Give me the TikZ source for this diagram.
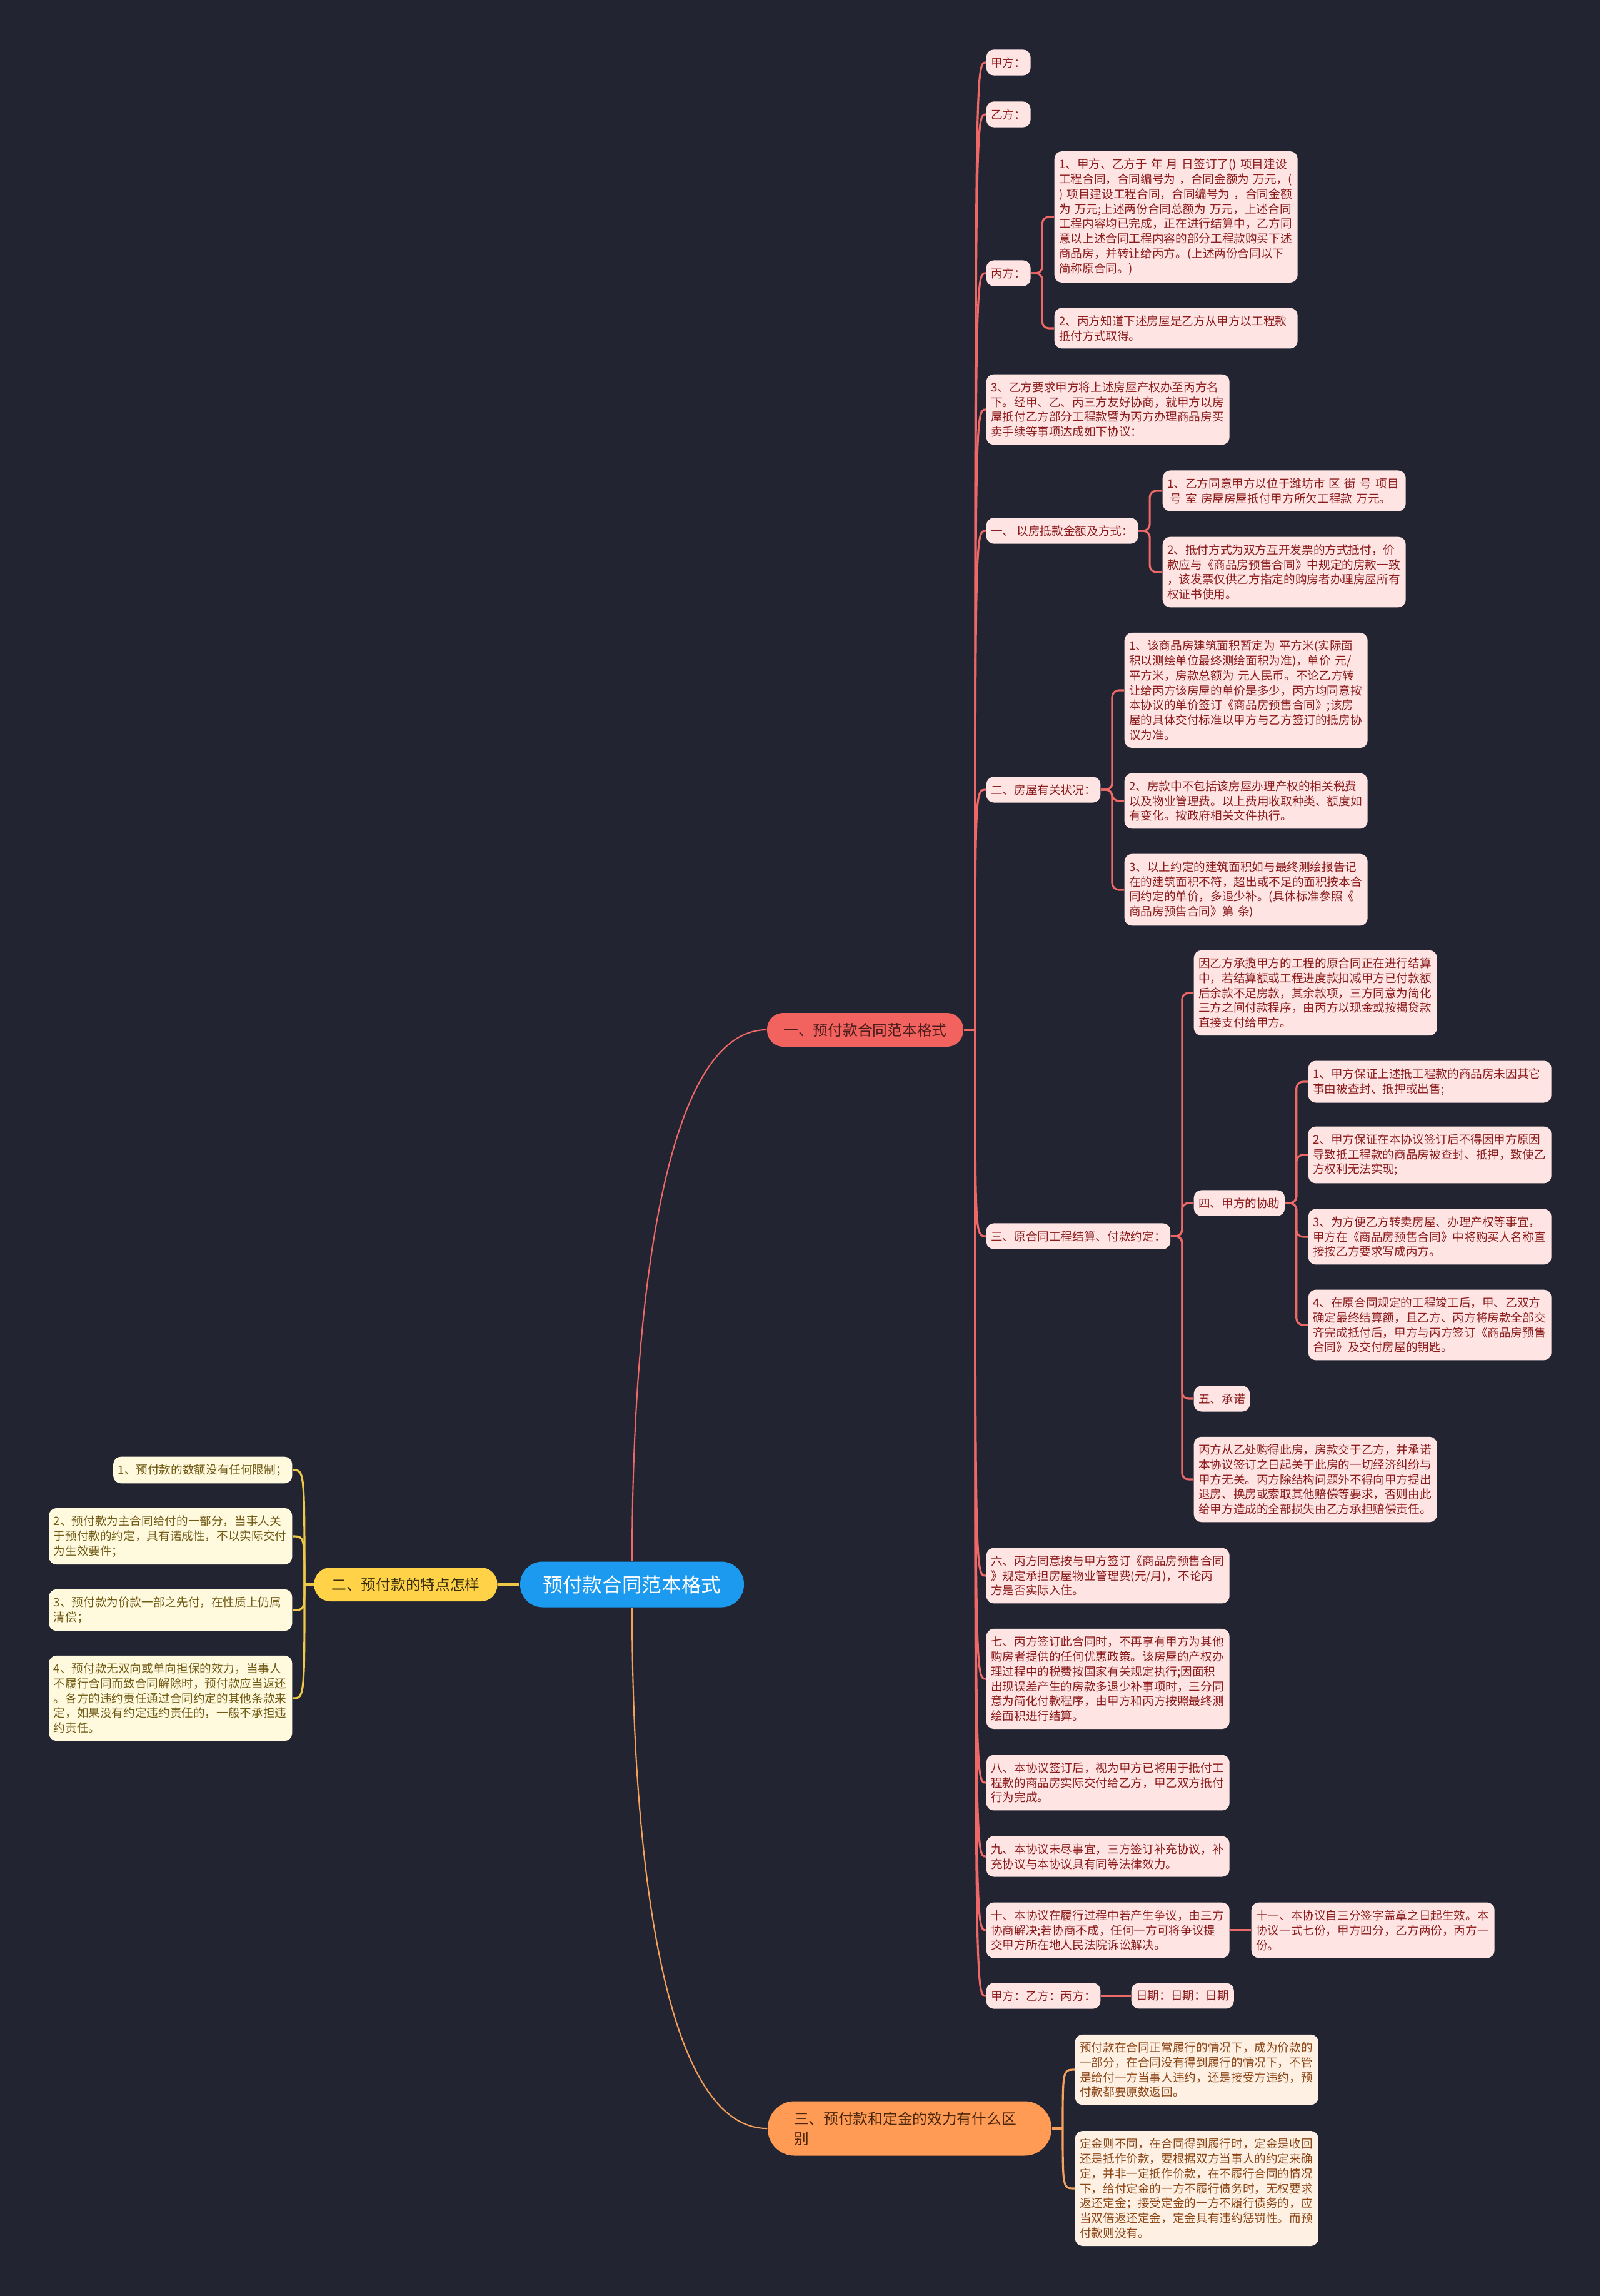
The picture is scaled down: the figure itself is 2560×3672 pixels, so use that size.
\documentclass[tikz,border=0pt]{standalone}
\usepackage{fontspec}
\usepackage{xcolor}
\usepackage{tikz}
\newfontfamily\cjk{Noto Sans CJK SC}

\definecolor{bgdark}{RGB}{34,37,49}
\definecolor{cRoot}{RGB}{28,154,240}
\definecolor{cRedMain}{RGB}{242,98,94}
\definecolor{cRedLine}{RGB}{238,104,104}
\definecolor{cRedFill}{RGB}{255,228,228}
\definecolor{cRedText}{RGB}{140,28,28}
\definecolor{cRedDark}{RGB}{75,28,28}
\definecolor{cYelMain}{RGB}{255,210,72}
\definecolor{cYelLine}{RGB}{240,200,72}
\definecolor{cYelFill}{RGB}{255,249,222}
\definecolor{cYelText}{RGB}{112,90,20}
\definecolor{cYelDark}{RGB}{55,45,10}
\definecolor{cOrgMain}{RGB}{255,155,85}
\definecolor{cOrgLine}{RGB}{245,160,92}
\definecolor{cOrgFill}{RGB}{255,240,228}
\definecolor{cOrgText}{RGB}{140,70,22}
\definecolor{cOrgDark}{RGB}{75,38,10}

\tikzset{
  mainbox/.style={inner sep=0pt, font=\cjk\fontsize{6.75}{9.1}\selectfont},
  leaf/.style={rounded corners=1.2mm, inner xsep=0.75mm, inner ysep=3.4pt, align=left,
    font=\cjk\fontsize{5.3}{6.77}\selectfont},
  wide/.style={text width=37.4mm},
  redleaf/.style={leaf, anchor=west, fill=cRedFill, text=cRedText},
  yelleaf/.style={leaf, anchor=east, fill=cYelFill, text=cYelText},
  orgleaf/.style={leaf, anchor=west, fill=cOrgFill, text=cOrgText},
  redwire/.style={draw=cRedLine, line width=0.9pt},
  yelwire/.style={draw=cYelLine, line width=0.9pt},
  orgwire/.style={draw=cOrgLine, line width=0.9pt}
}

\begin{document}
\begin{tikzpicture}[x=0.1mm,y=-0.1mm]
    \useasboundingbox (0,0) rectangle (2560,3672);
    \fill[bgdark] (0,0) rectangle (2560,3672);

    % root
        \node[mainbox, fill=cRoot, text=white, minimum width=35.8mm, minimum height=7.3mm,
          rounded corners=3.6mm, font=\cjk\fontsize{9}{11}\selectfont] (root) at (1011,2534) {预付款合同范本格式};

    % first branch
        \node[mainbox, fill=cRedMain, text=cRedDark, minimum width=31.4mm, minimum height=5.4mm,
          rounded corners=2.6mm] (b1) at (1384,1647) {一、预付款合同范本格式};

        \node[redleaf] (jia) at (1577,100) {甲方：};
        \node[redleaf] (yi) at (1577,183) {乙方：};
        \node[redleaf] (bing) at (1577,437) {丙方：};
        \node[redleaf,wide] (bingA) at (1686,347) {1、甲方、乙方于 年 月 日签订了() 项目建设\\工程合同，合同编号为 ，合同金额为 万元，(\\) 项目建设工程合同，合同编号为 ，合同金额\\为 万元;上述两份合同总额为 万元，上述合同\\工程内容均已完成，正在进行结算中，乙方同\\意以上述合同工程内容的部分工程款购买下述\\商品房，并转让给丙方。(上述两份合同以下\\简称原合同。)};
        \node[redleaf,wide] (bingB) at (1686,525) {2、丙方知道下述房屋是乙方从甲方以工程款\\抵付方式取得。};

        \node[redleaf,wide] (yq) at (1577,655) {3、乙方要求甲方将上述房屋产权办至丙方名\\下。经甲、乙、丙三方友好协商，就甲方以房\\屋抵付乙方部分工程款暨为丙方办理商品房买\\卖手续等事项达成如下协议：};

        % one
        \node[redleaf] (s1) at (1577,849) {一、 以房抵款金额及方式：};
        \node[redleaf,wide] (s1a) at (1859,785) {1、乙方同意甲方以位于潍坊市 区 街 号 项目\\\hspace*{1.2pt}号 室 房屋房屋抵付甲方所欠工程款 万元。};
        \node[redleaf,wide] (s1b) at (1859,915) {2、抵付方式为双方互开发票的方式抵付，价\\款应与《商品房预售合同》中规定的房款一致\\，该发票仅供乙方指定的购房者办理房屋所有\\权证书使用。};

        % two
        \node[redleaf] (s2) at (1577,1263) {二、房屋有关状况：};
        \node[redleaf,wide] (s2a) at (1798,1104) {1、该商品房建筑面积暂定为 平方米(实际面\\积以测绘单位最终测绘面积为准)，单价 元/\\平方米，房款总额为 元人民币。不论乙方转\\让给丙方该房屋的单价是多少，丙方均同意按\\本协议的单价签订《商品房预售合同》;该房\\屋的具体交付标准以甲方与乙方签订的抵房协\\议为准。};
        \node[redleaf,wide] (s2b) at (1798,1281) {2、房款中不包括该房屋办理产权的相关税费\\以及物业管理费。以上费用收取种类、额度如\\有变化。按政府相关文件执行。};
        \node[redleaf,wide] (s2c) at (1798,1423) {3、以上约定的建筑面积如与最终测绘报告记\\在的建筑面积不符，超出或不足的面积按本合\\同约定的单价，多退少补。(具体标准参照《\\商品房预售合同》第 条)};

        % three
        \node[redleaf] (s3) at (1577,1977) {三、原合同工程结算、付款约定：};
        \node[redleaf,wide] (s3a) at (1909,1588) {因乙方承揽甲方的工程的原合同正在进行结算\\中，若结算额或工程进度款扣减甲方已付款额\\后余款不足房款，其余款项，三方同意为简化\\三方之间付款程序，由丙方以现金或按揭贷款\\直接支付给甲方。};
        \node[redleaf] (s4) at (1909,1924) {四、甲方的协助};
        \node[redleaf,wide] (s4a) at (2092,1730) {1、甲方保证上述抵工程款的商品房未因其它\\事由被查封、抵押或出售;};
        \node[redleaf,wide] (s4b) at (2092,1847) {2、甲方保证在本协议签订后不得因甲方原因\\导致抵工程款的商品房被查封、抵押，致使乙\\方权利无法实现;};
        \node[redleaf,wide] (s4c) at (2092,1978) {3、为方便乙方转卖房屋、办理产权等事宜，\\甲方在《商品房预售合同》中将购买人名称直\\接按乙方要求写成丙方。};
        \node[redleaf,wide] (s4d) at (2092,2119) {4、在原合同规定的工程竣工后，甲、乙双方\\确定最终结算额，且乙方、丙方将房款全部交\\齐完成抵付后，甲方与丙方签订《商品房预售\\合同》及交付房屋的钥匙。};
        \node[redleaf] (s5) at (1909,2237) {五、承诺};
        \node[redleaf,wide] (s5a) at (1909,2366) {丙方从乙处购得此房，房款交于乙方，并承诺\\本协议签订之日起关于此房的一切经济纠纷与\\甲方无关。丙方除结构问题外不得向甲方提出\\退房、换房或索取其他赔偿等要求，否则由此\\给甲方造成的全部损失由乙方承担赔偿责任。};

        % six to ten
        \node[redleaf,wide] (s6) at (1577,2520) {六、丙方同意按与甲方签订《商品房预售合同\\》规定承担房屋物业管理费(元/月)，不论丙\\方是否实际入住。};
        \node[redleaf,wide] (s7) at (1577,2685) {七、丙方签订此合同时，不再享有甲方为其他\\购房者提供的任何优惠政策。该房屋的产权办\\理过程中的税费按国家有关规定执行;因面积\\出现误差产生的房款多退少补事项时，三分同\\意为简化付款程序，由甲方和丙方按照最终测\\绘面积进行结算。};
        \node[redleaf,wide] (s8) at (1577,2851) {八、本协议签订后，视为甲方已将用于抵付工\\程款的商品房实际交付给乙方，甲乙双方抵付\\行为完成。};
        \node[redleaf,wide] (s9) at (1577,2969) {九、本协议未尽事宜，三方签订补充协议，补\\充协议与本协议具有同等法律效力。};
        \node[redleaf,wide] (s10) at (1577,3087) {十、本协议在履行过程中若产生争议，由三方\\协商解决;若协商不成，任何一方可将争议提\\交甲方所在地人民法院诉讼解决。};
        \node[redleaf,wide] (s11) at (2001,3087) {十一、本协议自三分签字盖章之日起生效。本\\协议一式七份，甲方四分，乙方两份，丙方一\\份。};
        \node[redleaf] (sig) at (1577,3192) {甲方：乙方：丙方：};
        \node[redleaf] (date) at (1809,3192) {日期：日期：日期};

        % wires
        \draw[redwire, line width=0.6pt] (root.north) .. controls +(0,-397) and +(-166,0) .. (b1.west);
        \coordinate (rt) at (1560,1647);
        \draw[redwire] (b1.east) -- (rt);
        \foreach \n in {jia,yi,bing,yq,s1,s2,s3,s6,s7,s8,s9,s10,sig}
            \draw[redwire] (rt) .. controls (rt |- \n.west) .. (\n.west);
        \foreach \n in {bingA,bingB}
            \draw[redwire, rounded corners=3pt] (bing.east) -- ++(18,0) |- (\n.west);
        \foreach \n in {s1a,s1b}
            \draw[redwire, rounded corners=3pt] (s1.east) -- ++(18,0) |- (\n.west);
        \foreach \n in {s2a,s2b,s2c}
            \draw[redwire, rounded corners=3pt] (s2.east) -- ++(18,0) |- (\n.west);
        \foreach \n in {s3a,s4,s5,s5a}
            \draw[redwire, rounded corners=3pt] (s3.east) -- ++(18,0) |- (\n.west);
        \foreach \n in {s4a,s4b,s4c,s4d}
            \draw[redwire, rounded corners=3pt] (s4.east) -- ++(18,0) |- (\n.west);
        \draw[redwire] (s10.east) -- (s11.west);
        \draw[redwire] (sig.east) -- (date.west);

    % second branch
        \node[mainbox, fill=cYelMain, text=cYelDark, minimum width=29.3mm, minimum height=5.4mm,
          rounded corners=2.6mm] (b2) at (649,2534) {二、预付款的特点怎样};

        \node[yelleaf] (y1) at (468,2351) {1、预付款的数额没有任何限制；};
        \node[yelleaf,wide] (y2) at (468,2457) {2、预付款为主合同给付的一部分，当事人关\\于预付款的约定，具有诺成性，不以实际交付\\为生效要件；};
        \node[yelleaf,wide] (y3) at (468,2575) {3、预付款为价款一部之先付，在性质上仍属\\清偿；};
        \node[yelleaf,wide] (y4) at (468,2716) {4、预付款无双向或单向担保的效力，当事人\\不履行合同而致合同解除时，预付款应当返还\\。各方的违约责任通过合同约定的其他条款来\\定，如果没有约定违约责任的，一般不承担违\\约责任。};

        % wires
        \draw[yelwire] (root.west) -- (b2.east);
        \coordinate (yt) at (487,2534);
        \draw[yelwire] (b2.west) -- (yt);
        \foreach \n in {y1,y2,y3,y4}
            \draw[yelwire] (yt) .. controls (yt |- \n.east) .. (\n.east);

    % third branch
        \node[mainbox, fill=cOrgMain, text=cOrgDark, text width=37mm, align=left, inner xsep=4.2mm,
          minimum height=8.7mm, rounded corners=4.3mm] (b3) at (1455,3404) {三、预付款和定金的效力有什么区\\别};

        \node[orgleaf,wide] (o1) at (1719,3310) {预付款在合同正常履行的情况下，成为价款的\\一部分，在合同没有得到履行的情况下，不管\\是给付一方当事人违约，还是接受方违约，预\\付款都要原数返回。};
        \node[orgleaf,wide] (o2) at (1719,3500) {定金则不同，在合同得到履行时，定金是收回\\还是抵作价款，要根据双方当事人的约定来确\\定，并非一定抵作价款，在不履行合同的情况\\下，给付定金的一方不履行债务时，无权要求\\返还定金；接受定金的一方不履行债务的，应\\当双倍返还定金，定金具有违约惩罚性。而预\\付款则没有。};

        % wires
        \draw[orgwire, line width=0.6pt] (root.south) .. controls +(0,397) and +(-167,0) .. (b3.west);
        \coordinate (ot) at (1700,3404);
        \draw[orgwire] (b3.east) -- (ot);
        \foreach \n in {o1,o2}
            \draw[orgwire] (ot) .. controls (ot |- \n.west) .. (\n.west);
\end{tikzpicture}
\end{document}
